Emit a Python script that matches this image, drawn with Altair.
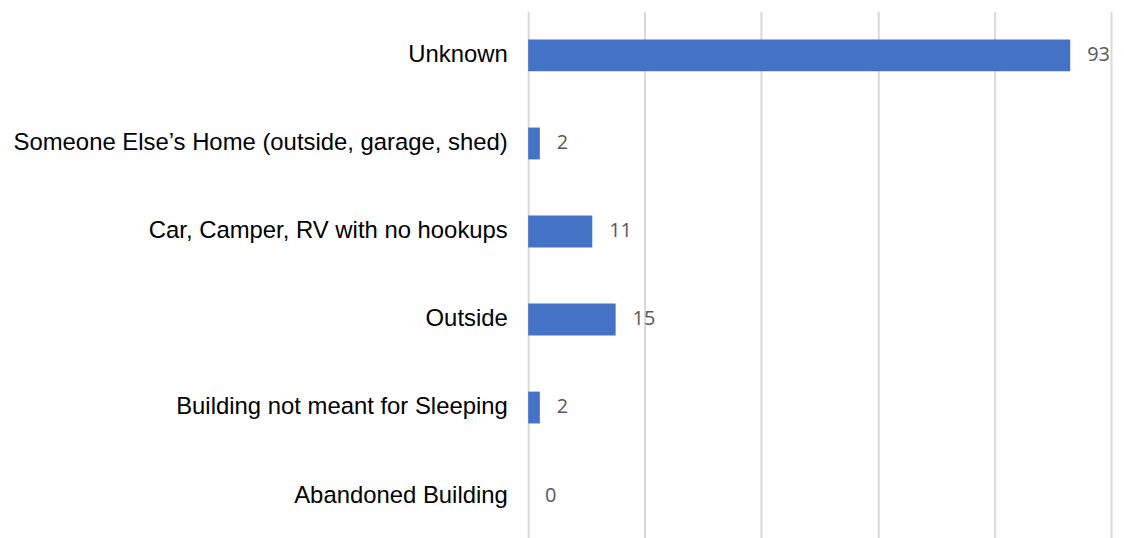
import altair as alt
import pandas as pd

categories = [
    "Unknown",
    "Someone Else\u2019s Home (outside, garage, shed)",
    "Car, Camper, RV with no hookups",
    "Outside",
    "Building not meant for Sleeping",
    "Abandoned Building",
]
values = [93, 2, 11, 15, 2, 0]

df = pd.DataFrame({"category": categories, "value": values})

x = alt.X(
    "value:Q",
    scale=alt.Scale(domain=[0, 100], nice=False, zero=True),
    axis=alt.Axis(
        values=[0, 20, 40, 60, 80, 100], orient="bottom",
        labels=False, ticks=False, domain=False, title=None,
        grid=True, gridColor="#d9d9d9", gridWidth=2,
    ),
)
y = alt.Y(
    "category:N",
    sort=categories,
    scale=alt.Scale(paddingInner=0, paddingOuter=0),
    axis=alt.Axis(
        title=None, ticks=False, domain=False, grid=False,
        labelFont="Liberation Sans", labelFontSize=24, labelColor="#000000",
        labelPadding=21, labelLimit=1000,
    ),
)

bars = alt.Chart(df).mark_bar(color="#4472C4", size=32).encode(x=x, y=y)
labels = alt.Chart(df).mark_text(
    align="left", baseline="middle", dx=17,
    font="Open Sans", fontSize=20, color="#595959",
).encode(x=x, y=y, text="value:Q")

chart = (
    alt.layer(bars, labels)
    .properties(
        width=586, height=531, background="#ffffff",
        padding={"top": 2, "left": 4, "right": 5, "bottom": 0},
    )
    .configure_view(stroke="transparent", strokeWidth=0)
)

chart.save("out.html", embed_options={"renderer": "svg", "actions": False})
